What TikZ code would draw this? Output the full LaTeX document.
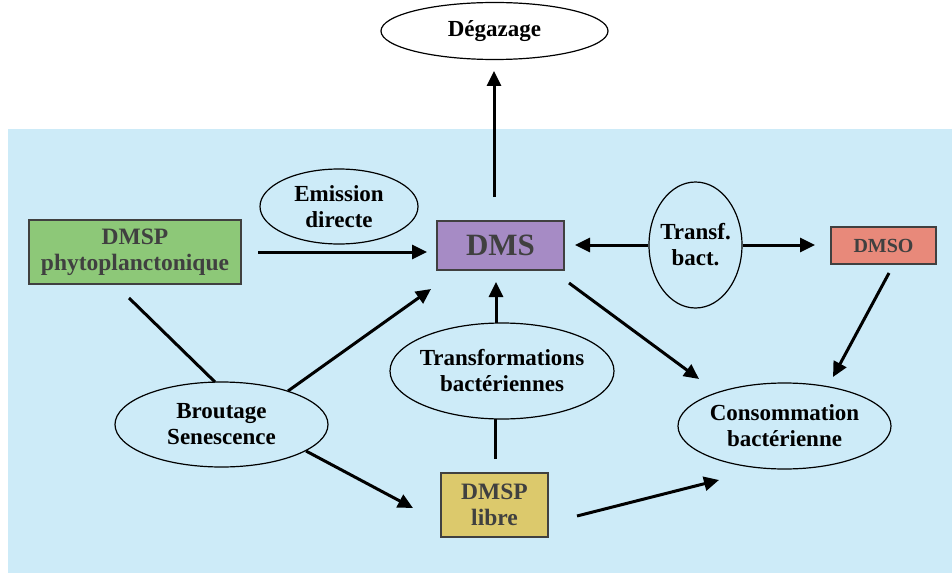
\documentclass[tikz,border=0pt]{standalone}
\usepackage{fontspec}
\setmainfont{Liberation Serif}
\usetikzlibrary{shapes.geometric,arrows.meta}
\definecolor{bgblue}{HTML}{CDEBF8}
\definecolor{boxgreen}{HTML}{8DC878}
\definecolor{boxpurple}{HTML}{A68BC5}
\definecolor{boxsalmon}{HTML}{E8897A}
\definecolor{boxkhaki}{HTML}{DCC96C}
\definecolor{boxtext}{HTML}{404040}
\begin{document}
\begin{tikzpicture}[x=1pt,y=-1pt,
  oval/.style={ellipse,draw=black,line width=1.2pt,inner sep=0pt},
  ovaltext/.style={inner sep=0pt,align=center,
    font=\bfseries\fontsize{23}{26}\selectfont},
  rbox/.style={rectangle,draw=boxtext,line width=2.2pt,inner sep=0pt,align=center,
    text=boxtext,font=\bfseries\fontsize{23.5}{26}\selectfont},
  arr/.style={line width=3pt,-{Triangle[length=15pt,width=14pt]}},
  link/.style={line width=3pt}]
\useasboundingbox (0,0) rectangle (952,575);
\fill[bgblue] (8,129) rectangle (952,573);

% ellipses
\node[oval,minimum width=227pt,minimum height=57pt] (deg) at (494.5,31) {};
\node[ovaltext] (degT) at (deg.center) {Dégazage};
\node[oval,minimum width=158pt,minimum height=75pt] (emis) at (339,206.5) {};
\node[ovaltext] (emisT) at (emis.center) {Emission\\directe};
\node[oval,minimum width=93pt,minimum height=126pt] (transf) at (695.5,245) {};
\node[ovaltext] (transfT) at (transf.center) {Transf.\\bact.};
\node[oval,minimum width=224pt,minimum height=96pt] (trans) at (502,371) {};
\node[ovaltext] (transT) at (trans.center) {Transformations\\bactériennes};
\node[oval,minimum width=213pt,minimum height=85pt] (brout) at (221.5,424.5) {};
\node[ovaltext] (broutT) at (brout.center) {Broutage\\Senescence};
\node[oval,minimum width=213pt,minimum height=86pt] (conso) at (784.5,426) {};
\node[ovaltext] (consoT) at (conso.center) {Consommation\\bactérienne};

% boxes
\node[rbox,fill=boxgreen,minimum width=212pt,minimum height=64pt] (phyto) at (135,252) {DMSP\\phytoplanctonique};
\node[rbox,fill=boxpurple,minimum width=127pt,minimum height=49pt,font=\bfseries\fontsize{31}{36}\selectfont] (dms) at (500.5,245.5) {DMS};
\node[rbox,fill=boxsalmon,minimum width=105pt,minimum height=37pt,font=\bfseries\fontsize{20}{22}\selectfont] (dmso) at (883.5,245.5) {DMSO};
\node[rbox,fill=boxkhaki,minimum width=107pt,minimum height=64pt] (libre) at (494.5,505) {DMSP\\libre};

% free ends
\coordinate (a1s) at (258,252);   \coordinate (a1e) at (427,252);
\coordinate (a2s) at (494,197);   \coordinate (a2e) at (494,71);
\coordinate (a3e) at (575,245);
\coordinate (a4e) at (815,245);
\coordinate (a5s) at (889,273);   \coordinate (a5e) at (833,377);
\coordinate (a6s) at (569,283);   \coordinate (a6e) at (699,379);
\coordinate (a7s) at (577,516);   \coordinate (a7e) at (719,480);
\coordinate (l1s) at (129,298);   \coordinate (l1e) at (215,382);
\coordinate (a8s) at (288,391);   \coordinate (a8e) at (431,289);
\coordinate (a9s) at (496,323);   \coordinate (a9e) at (496,282);
\coordinate (l2s) at (495,459);   \coordinate (l2e) at (495,419);
\coordinate (a10s) at (306,451);  \coordinate (a10e) at (413,508);

% connectors
\draw[arr] (a1s) -- (a1e);
\draw[arr] (a2s) -- (a2e);
\draw[arr] (transf.west) -- (a3e);
\draw[arr] (transf.east) -- (a4e);
\draw[arr] (a5s) -- (a5e);
\draw[arr] (a6s) -- (a6e);
\draw[arr] (a7s) -- (a7e);
\draw[link] (l1s) -- (l1e);
\draw[arr] (a8s) -- (a8e);
\draw[arr] (a9s) -- (a9e);
\draw[link] (l2s) -- (l2e);
\draw[arr] (a10s) -- (a10e);
\end{tikzpicture}
\end{document}
